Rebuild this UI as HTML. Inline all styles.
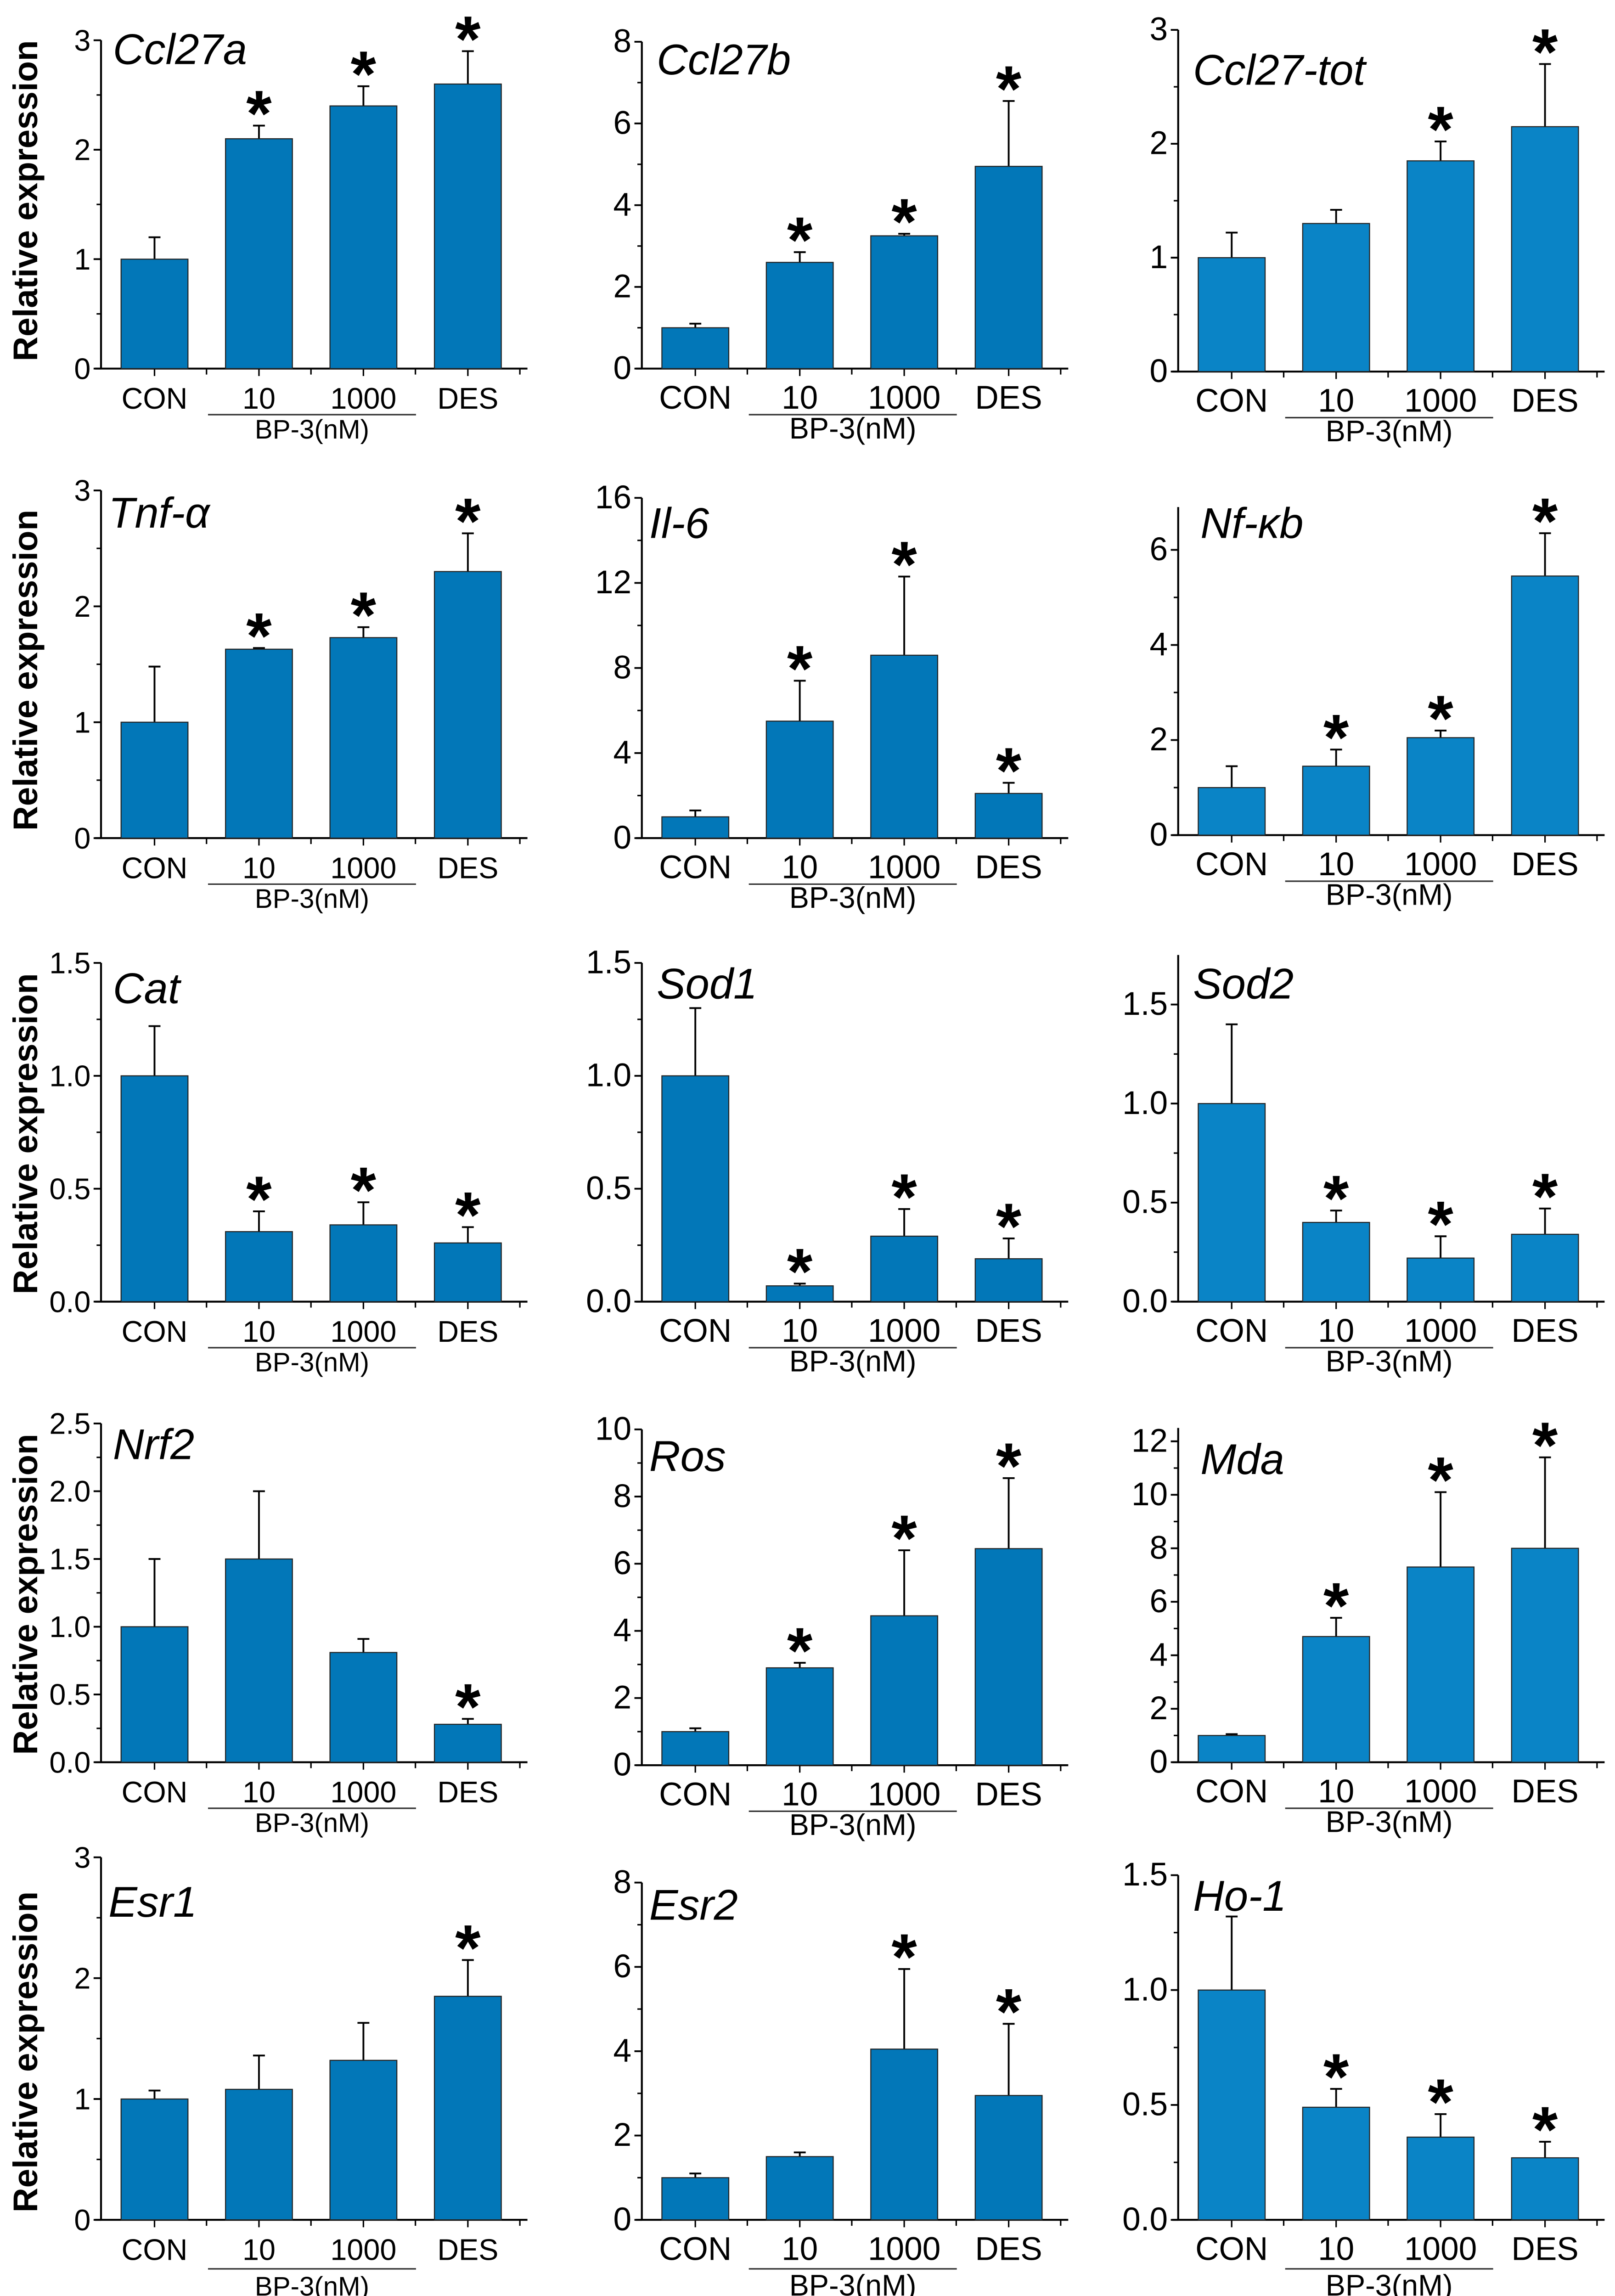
<!DOCTYPE html>
<html><head><meta charset="utf-8">
<style>html,body{margin:0;padding:0;background:#fff;overflow:hidden;width:3517px;height:5048px}svg{display:block}</style>
</head><body>
<svg id="fig" width="3517" height="5048" viewBox="0 0 1087 1560" xmlns="http://www.w3.org/2000/svg" font-family="Liberation Sans, sans-serif"></svg>
<script>
const categories = ["CON","10","1000","DES"];
const titles = ["Ccl27a","Ccl27b","Ccl27-tot","Tnf-α","Il-6","Nf-κb","Cat","Sod1","Sod2","Nrf2","Ros","Mda","Esr1","Esr2","Ho-1"];
const means = [
 [1,2.1,2.4,2.6],[1,2.6,3.25,4.95],[1,1.3,1.85,2.15],
 [1,1.63,1.73,2.3],[1,5.5,8.6,2.1],[1,1.45,2.05,5.45],
 [1,0.31,0.34,0.26],[1,0.07,0.29,0.19],[1,0.4,0.22,0.34],
 [1,1.5,0.81,0.28],[1,2.9,4.45,6.45],[1,4.7,7.3,8.0],
 [1,1.08,1.32,1.85],[1,1.5,4.05,2.95],[1,0.49,0.36,0.27]];
const errTops = [
 [1.2,2.22,2.58,2.9],[1.1,2.85,3.3,6.55],[1.22,1.42,2.02,2.7],
 [1.48,1.64,1.82,2.63],[1.3,7.4,12.3,2.6],[1.45,1.8,2.2,6.35],
 [1.22,0.4,0.44,0.33],[1.3,0.08,0.41,0.28],[1.4,0.46,0.33,0.47],
 [1.5,2.0,0.91,0.32],[1.1,3.05,6.4,8.55],[1.05,5.4,10.1,11.4],
 [1.07,1.36,1.63,2.15],[1.1,1.6,5.95,4.65],[1.32,0.57,0.46,0.34]];
const stars = [
 [0,1,1,1],[0,1,1,1],[0,0,1,1],[0,1,1,1],[0,1,1,1],[0,1,1,1],
 [0,1,1,1],[0,1,1,1],[0,1,1,1],[0,0,0,1],[0,1,1,1],[0,1,1,1],
 [0,0,0,1],[0,0,1,1],[0,1,1,1]];
const tickLabels = [
 ["0","1","2","3"],["0","2","4","6","8"],["0","1","2","3"],
 ["0","1","2","3"],["0","4","8","12","16"],["0","2","4","6"],
 ["0.0","0.5","1.0","1.5"],["0.0","0.5","1.0","1.5"],["0.0","0.5","1.0","1.5"],
 ["0.0","0.5","1.0","1.5","2.0","2.5"],["0","2","4","6","8","10"],["0","2","4","6","8","10","12"],
 ["0","1","2","3"],["0","2","4","6","8"],["0.0","0.5","1.0","1.5"]];
const axisMax = [3,8,3,3,16,6.9,1.5,1.5,1.75,2.5,10,12.5,3,8,1.5];

// layout (not data)
const colX=[68,432,793], colColor=["#0277b8","#0277b8","#0a84c6"];
const panelY0=[248,248,250,564,564,562,876,876,876,1186,1188,1186,1494,1494,1494];
const pxPerMax=[221,220,230,234,229,192,228,228,200,228,226,216,244,227,232];
const titleX=[76,442,803,73,437,808,76,442,803,76,437,808,73,437,803];
const titleY=[43,50,57,355,362,362,675,672,672,982,990,992,1290,1292,1286];

const svg=document.getElementById('fig');
const NS="http://www.w3.org/2000/svg";
function mk(tag,attrs,parent){const e=document.createElementNS(NS,tag);for(const k in attrs)e.setAttribute(k,attrs[k]);(parent||svg).appendChild(e);return e;}

for(let p=0;p<15;p++){
  const r=Math.floor(p/3),c=p%3;
  const ax=colX[c], y0=panelY0[p];
  const maxTick=parseFloat(tickLabels[p][tickLabels[p].length-1]);
  const pxMax=pxPerMax[p];
  const yScale=v=>y0-v/maxTick*pxMax;
  const xCenter=i=>ax+36+i*70.3;
  const g=mk('g',{});
  
  
  const fs = c===0 ? 19 : 21;
  const yl=mk('line',{x1:ax,y1:y0,x2:ax,y2:yScale(axisMax[p]),stroke:'#000','stroke-width':1.3},g);
  
  
  const xl=mk('line',{x1:ax-4,y1:y0,x2:ax+287,y2:y0,stroke:'#000','stroke-width':1.3},g);
  
  
  const n=tickLabels[p].length;
  for(let t=0;t<n;t++){
    const v=parseFloat(tickLabels[p][t]);const y=yScale(v);
    mk('line',{x1:ax-5,y1:y,x2:ax,y2:y,stroke:'#000','stroke-width':1.2},g);
    const tx=mk('text',{x:ax-7,y:y+7,'font-size':fs+1,'text-anchor':'end'},g);
    tx.textContent=tickLabels[p][t];
    
    
    if(t<n-1){const step=parseFloat(tickLabels[p][1])-parseFloat(tickLabels[p][0]);const ym=yScale(v+step/2);
      mk('line',{x1:ax-3,y1:ym,x2:ax,y2:ym,stroke:'#000','stroke-width':1},g);}
  }
  for(let i=0;i<4;i++){
    mk('line',{x1:xCenter(i),y1:y0,x2:xCenter(i),y2:y0+5,stroke:'#000','stroke-width':1},g);
    mk('line',{x1:xCenter(i)+35,y1:y0,x2:xCenter(i)+35,y2:y0+4,stroke:'#000','stroke-width':1},g);
  }
  for(let i=0;i<4;i++){
    const x=xCenter(i), bw=45;
    const top=yScale(means[p][i]);
    const et=yScale(errTops[p][i]);
    const eb=mk('line',{x1:x,y1:top,x2:x,y2:et,stroke:'#000','stroke-width':1.2},g);
    
    
    mk('line',{x1:x-4,y1:et,x2:x+4,y2:et,stroke:'#000','stroke-width':1.2},g);
    const b=mk('rect',{x:x-bw/2,y:top,width:bw,height:y0-top,fill:colColor[c],stroke:'#222','stroke-width':0.7},g);
    
    
    if(stars[p][i]){
      const s=mk('text',{x:x,y:et+7,'font-size':44,'font-weight':'bold','text-anchor':'middle'},g);
      s.textContent='*';
      
      
    }
    const cl=mk('text',{x:x,y:y0+27,'font-size':fs+1,'text-anchor':'middle'},g);
    cl.textContent=categories[i];
    
    
  }
  const lineY = r===4 ? y0+33 : y0+31;
  mk('line',{x1:ax+72,y1:lineY,x2:ax+212,y2:lineY,stroke:'#333','stroke-width':1},g);
  const bp=mk('text',{x:ax+142,y:lineY+(r===4?18:16),'font-size':fs-1,'text-anchor':'middle'},g);
  bp.textContent='BP-3(nM)';
  
  
  const ti=mk('text',{x:titleX[p],y:titleY[p],'font-size':29,'font-style':'italic'},g);
  ti.textContent=titles[p];
  
  
  if(c===0){
    const yc=y0-113;
    const yt=mk('text',{x:0,y:0,'font-size':23,'font-weight':'bold','text-anchor':'middle',transform:'translate(25,'+yc+') rotate(-90)'},g);
    yt.textContent='Relative expression';
    
    
  }
}
</script>
</body></html>
